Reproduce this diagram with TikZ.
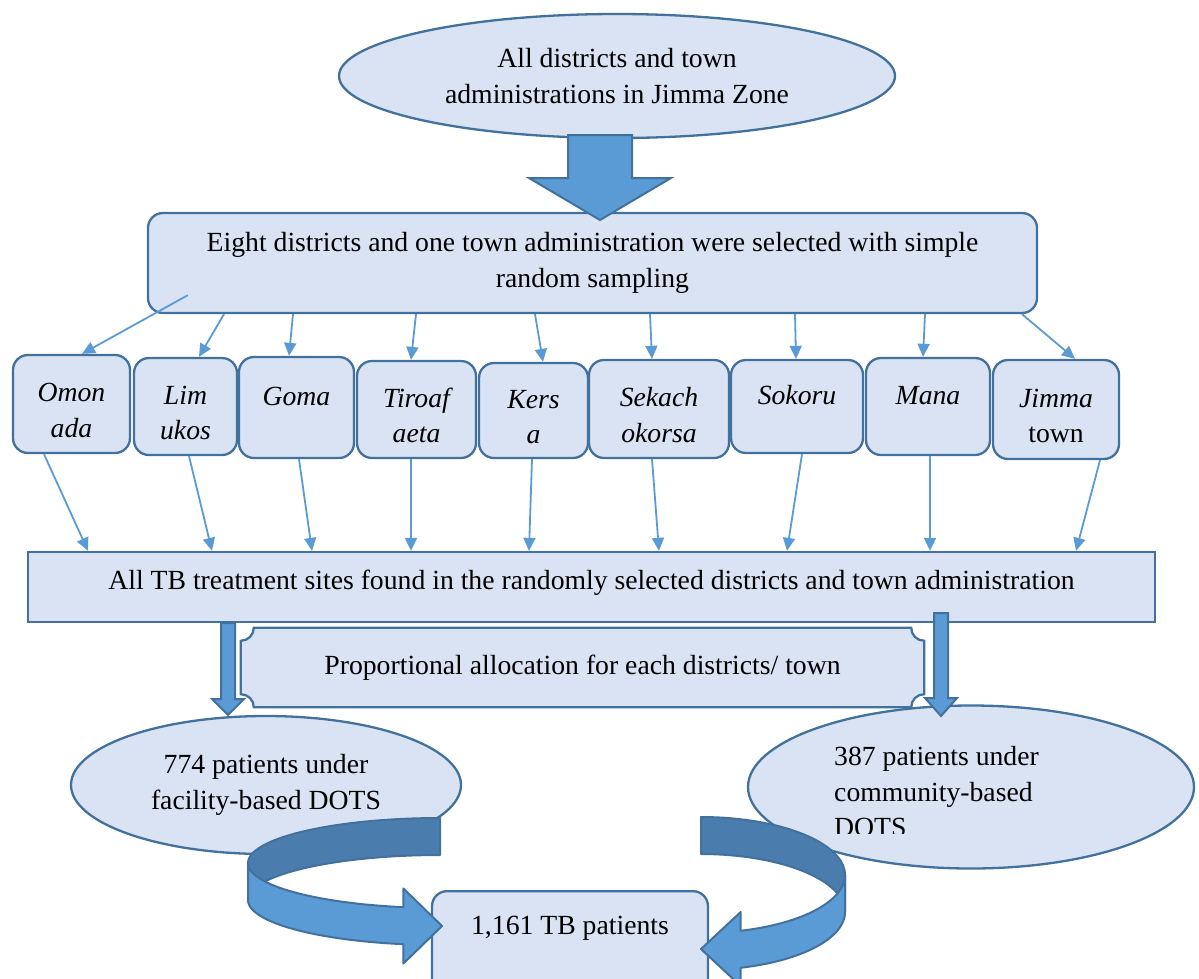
\documentclass[tikz,border=0pt]{standalone}
\usepackage{fontspec}
\setmainfont{Liberation Serif}
\usetikzlibrary{arrows.meta,calc,shapes.geometric,backgrounds}
\definecolor{PaleBlue}{HTML}{DAE3F3}
\definecolor{EdgeBlue}{HTML}{41719C}
\definecolor{ArrowBlue}{HTML}{5B9BD5}
\definecolor{ShadeBlue}{HTML}{4A7DAD}

\begin{document}
\begin{tikzpicture}[x=1pt,y=-1pt,
    font=\fontsize{27.7}{35.5}\selectfont,
    pale/.style={fill=PaleBlue,draw=EdgeBlue,line width=2.3pt},
    oval/.style={pale,ellipse,inner sep=0pt,align=center},
    roundbox/.style={pale,rounded corners=15pt,inner sep=0pt,align=center},
    district/.style={roundbox,font=\fontsize{27.7}{35.5}\selectfont\itshape,
      execute at begin node={\rule{0pt}{67pt}}},
    link/.style={draw=ArrowBlue,line width=1.8pt,-{Triangle[length=13pt,width=12pt]}},
    blockarrow/.style={fill=ArrowBlue,draw=EdgeBlue,line width=2pt},
    ribbonback/.style={fill=ShadeBlue,draw=EdgeBlue,line width=2pt,line join=round},
    ribbonfront/.style={fill=ArrowBlue,draw=EdgeBlue,line width=2pt,line join=round}]
  \useasboundingbox (0,0) rectangle (1199,978);
  \clip (0,0) rectangle (1199,978);

  \node[oval,minimum width=556pt,minimum height=124pt] (zone) at (617,76)
    {All districts and town\\administrations in Jimma Zone};
  \node[roundbox,minimum width=889pt,minimum height=100pt] (sel) at (592.5,263)
    {Eight districts and one town administration were selected with simple\\random sampling};
  \draw[blockarrow] (568,135) -- (568,178) -- (529,178) -- (600,220) -- (671,178) -- (632,178) -- (632,135) -- cycle;

  \foreach \nd/\cx/\cy/\w/\h/\txt in {omonada/71.5/404/117/98/{Omon\\ada},
      limukos/185.5/406.5/103/97/{Lim\\ukos},goma/296.5/407.5/115/101/{Goma\\\mbox{}},
      tiroafaeta/416.5/409.5/119/97/{Tiroaf\\aeta},kersa/533.5/410.5/109/95/{Kers\\a},
      sekachokorsa/659/409/140/98/{Sekach\\okorsa},sokoru/797/406.5/132/93/{Sokoru\\\mbox{}},
      mana/928/406.5/124/97/{Mana\\\mbox{}},jimma/1056/409.5/126/99/{Jimma\\\upshape town}}
    \node[district,minimum width=\w pt,minimum height=\h pt] (\nd) at (\cx,\cy) {\txt};

  \draw[link] ($(sel.south west)+(41,-19)$) -- (82,0 |- omonada.north);
  \foreach \nd/\a/\b in {limukos/224/199,goma/293/289,tiroafaeta/416/411,kersa/535/543,
      sekachokorsa/650/652,sokoru/795/796,mana/925/923,jimma/1022/1075}
    \draw[link] (\a,0 |- sel.south) -- (\b,0 |- \nd.north);

  \node[pale,minimum width=1127pt,minimum height=70pt,inner sep=0pt,text depth=14pt] (sites) at (591.5,587)
    {All TB treatment sites found in the randomly selected districts and town administration};
  \foreach \nd/\a/\b in {omonada/44/88,limukos/189/212,goma/299/312,tiroafaeta/411/411,kersa/532/529,
      sekachokorsa/652/659,sokoru/802/787,mana/930/930,jimma/1100/1076}
    \draw[link] (\a,0 |- \nd.south) -- (\b,0 |- sites.north);

  \node[minimum width=683pt,minimum height=79pt,inner sep=0pt] (alloc) at (582.5,667.5)
    {Proportional allocation for each districts/ town};
  \begin{scope}[on background layer]
    \draw[pale] ([xshift=13pt]alloc.north west) -- ([xshift=-13pt]alloc.north east)
      arc[start angle=180,end angle=270,radius=13pt] -- ([yshift=13pt]alloc.south east)
      arc[start angle=90,end angle=180,radius=13pt] -- ([xshift=13pt]alloc.south west)
      arc[start angle=0,end angle=90,radius=13pt] -- ([yshift=-13pt]alloc.north west)
      arc[start angle=-90,end angle=0,radius=13pt] -- cycle;
  \end{scope}

  \node[oval,minimum width=390pt,minimum height=138pt] (fac) at (266,785)
    {774 patients under\\facility-based DOTS};
  \node[oval,minimum width=446pt,minimum height=163pt] (com) at (971,787) {};
  \begin{scope}
    \clip (740,700) rectangle (1199,833);
    \node[anchor=west,align=left,inner sep=0pt] (comtext) at (834,792)
      {387 patients under\\community-based\\DOTS};
  \end{scope}

  \draw[blockarrow] (221,0 |- sites.south) -- (221,699) -- (212,699) -- (228,0 |- fac.north)
    -- (244,699) -- (235,699) -- (235,0 |- sites.south) -- cycle;
  \draw[blockarrow] (934,613) -- (934,698) -- (925,698) -- (941,716) -- (957,698) -- (948,698) -- (948,613) -- cycle;

  \node[roundbox,anchor=north,minimum width=276pt,text height=19pt,text depth=40pt,inner ysep=24pt] (total)
    at (570,890) {1,161 TB patients};

  \draw[ribbonback] plot[domain=90:180,samples=40] ({440+192*cos(\x)},{863-45*sin(\x)})
    -- plot[domain=180:90,samples=40] ({440+192*cos(\x)},{900-45*sin(\x)}) -- cycle;
  \draw[ribbonfront] plot[domain=180:259,samples=40] ({440+192*cos(\x)},{863-45*sin(\x)})
    -- (403.4,888.5) -- (442,926) -- (403.4,963.5)
    -- plot[domain=259:180,samples=40] ({440+192*cos(\x)},{900-45*sin(\x)}) -- cycle;
  \draw[ribbonback] plot[domain=90:0,samples=40] ({701+144*cos(\x)},{875-58*sin(\x)})
    -- plot[domain=0:90,samples=40] ({701+144*cos(\x)},{912-58*sin(\x)}) -- cycle;
  \draw[ribbonfront] plot[domain=0:-74,samples=40] ({701+144*cos(\x)},{875-58*sin(\x)})
    -- (740.7,912) -- (701,949) -- (740.7,986)
    -- plot[domain=-74:0,samples=40] ({701+144*cos(\x)},{912-58*sin(\x)}) -- cycle;
\end{tikzpicture}
\end{document}
